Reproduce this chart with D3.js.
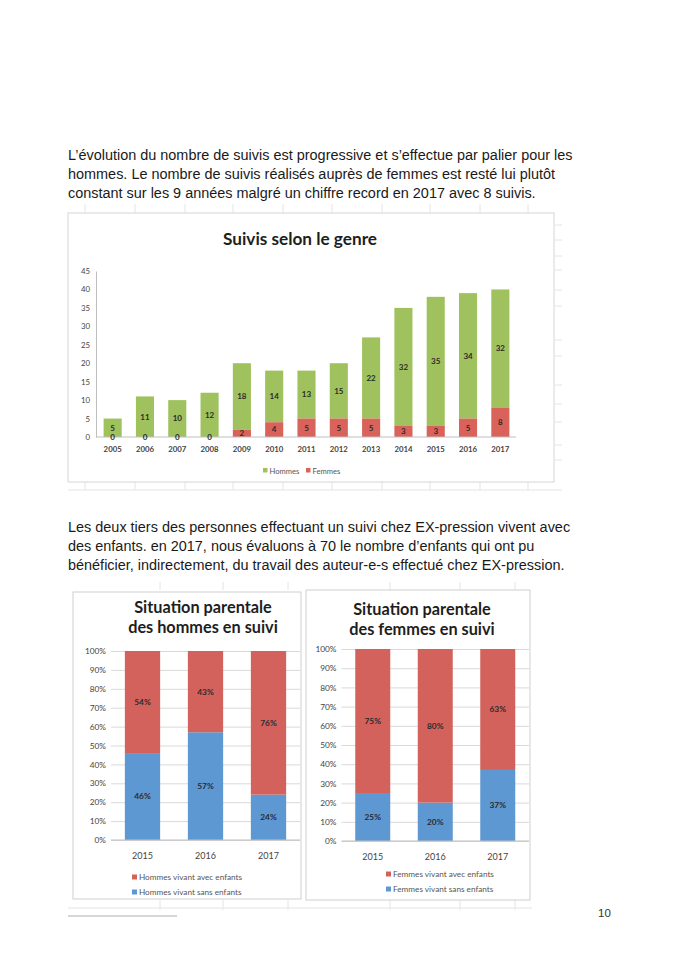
<!DOCTYPE html>
<html lang="fr">
<head>
<meta charset="UTF-8" />
<title>Suivis EX-pression</title>
<script src="https://cdn.jsdelivr.net/npm/d3@7"></script>
<style>
  body { margin: 0; background: #fff; }
  .para { font-family: "Liberation Sans", Arial, sans-serif; font-size: 14.45px; fill: #1a1a1a; }
  .ctitle { font-family: Lato, "Open Sans", sans-serif; font-weight: bold; fill: #1e1e1e; }
  .tick text { font-family: Lato, "Open Sans", sans-serif; fill: #444; }
  .lbl { font-family: Lato, "Open Sans", sans-serif; font-weight: bold; fill: #2b2b2b; }
  .leg { font-family: Lato, "Open Sans", sans-serif; fill: #555; }
</style>
</head>
<body>
<svg id="page" width="684" height="968"></svg>
<script>
  // ---- data ----
  let years = ["2005", "2006", "2007", "2008", "2009", "2010", "2011", "2012", "2013", "2014", "2015", "2016", "2017"];
  let hommes = [5, 11, 10, 12, 18, 14, 13, 15, 22, 32, 35, 34, 32];
  let femmes = [0, 0, 0, 0, 2, 4, 5, 5, 5, 3, 3, 5, 8];
  let yTicks = [0, 5, 10, 15, 20, 25, 30, 35, 40, 45];

  let years3 = ["2015", "2016", "2017"];
  let hommesSans = [46, 57, 24];
  let hommesAvec = [54, 43, 76];
  let femmesSans = [25, 20, 37];
  let femmesAvec = [75, 80, 63];
  let pctTicks = [0, 10, 20, 30, 40, 50, 60, 70, 80, 90, 100];

  let para1 = [
    "L\u2019évolution du nombre de suivis est progressive et s\u2019effectue par palier pour les",
    "hommes. Le nombre de suivis réalisés auprès de femmes est resté lui plutôt",
    "constant sur les 9 années malgré un chiffre record en 2017 avec 8 suivis."
  ];
  let para2 = [
    "Les deux tiers des personnes effectuant un suivi chez EX-pression vivent avec",
    "des enfants. en 2017, nous évaluons à 70 le nombre d\u2019enfants qui ont pu",
    "bénéficier, indirectement, du travail des auteur-e-s effectué chez EX-pression."
  ];

  let green = "#9fc25e", red = "#d9625b", blue = "#5e98d2", red2 = "#d4625c";

  let svg = d3.select("#page");
  svg.append("rect").attr("width", 684).attr("height", 968).attr("fill", "#fff");

  // ---- paragraphs ----
  function paragraph(lines, y0) {
    lines.forEach(function (t, i) {
      svg.append("text").attr("class", "para")
        .attr("x", 68).attr("y", y0 + i * 19).text(t);
    });
  }
  paragraph(para1, 160);
  paragraph(para2, 532);

  // faint spreadsheet cell lines around the pasted charts
  let cells = svg.append("g").attr("stroke", "#e4e4e4").attr("stroke-width", 1);
  [85, 135, 185, 233, 283, 332, 382, 430, 480, 528].forEach(function (x) {
    cells.append("line").attr("x1", x).attr("x2", x).attr("y1", 204).attr("y2", 213);
    cells.append("line").attr("x1", x).attr("x2", x).attr("y1", 482).attr("y2", 490);
  });
  cells.append("line").attr("x1", 68).attr("x2", 562).attr("y1", 490).attr("y2", 490);
  [225, 240, 256, 270, 290, 306, 340, 356, 385, 404, 422, 445, 460].forEach(function (y) {
    cells.append("line").attr("x1", 555).attr("x2", 562).attr("y1", y).attr("y2", y);
  });
  [160, 223, 288, 390, 460, 515].forEach(function (x) {
    cells.append("line").attr("x1", x).attr("x2", x).attr("y1", 582).attr("y2", 590);
    cells.append("line").attr("x1", x).attr("x2", x).attr("y1", 900).attr("y2", 910);
  });
  cells.append("line").attr("x1", 68).attr("x2", 532).attr("y1", 908).attr("y2", 908);

  // ---- chart 1 : Suivis selon le genre ----
  let c1 = svg.append("g");
  c1.append("rect").attr("x", 68).attr("y", 213).attr("width", 486).attr("height", 269)
    .attr("fill", "#fff").attr("stroke", "#d6d6d6");
  c1.append("text").attr("class", "ctitle").attr("x", 300).attr("y", 245)
    .attr("text-anchor", "middle").style("font-size", "17.2px").text("Suivis selon le genre");

  let x1 = d3.scaleBand().domain(years).range([96.5, 516.5]).paddingInner(0.44).paddingOuter(0.22);
  let y1 = d3.scaleLinear().domain([0, 45]).range([437, 271]);

  let ax1 = c1.append("g").attr("transform", "translate(96,0)")
    .call(d3.axisLeft(y1).tickValues(yTicks).tickSize(0).tickPadding(6));
  ax1.select(".domain").attr("stroke", "#bfbfbf");
  ax1.selectAll("text").style("font-size", "7.8px");

  c1.selectAll(".bh").data(years).enter().append("rect")
    .attr("x", function (d) { return x1(d); })
    .attr("width", x1.bandwidth())
    .attr("y", function (d, i) { return y1(hommes[i] + femmes[i]); })
    .attr("height", function (d, i) { return y1(femmes[i]) - y1(hommes[i] + femmes[i]); })
    .attr("fill", green);
  c1.selectAll(".bf").data(years).enter().append("rect")
    .attr("x", function (d) { return x1(d); })
    .attr("width", x1.bandwidth())
    .attr("y", function (d, i) { return y1(femmes[i]); })
    .attr("height", function (d, i) { return y1(0) - y1(femmes[i]); })
    .attr("fill", red);

  let ax1b = c1.append("g").attr("transform", "translate(0,437)")
    .call(d3.axisBottom(x1).tickSize(0).tickPadding(9));
  ax1b.select(".domain").attr("stroke", "#bfbfbf").attr("d", "M96,0H516");
  ax1b.selectAll("text").style("font-size", "7.8px").style("font-weight", "bold");

  years.forEach(function (d, i) {
    let cx = x1(d) + x1.bandwidth() / 2;
    c1.append("text").attr("class", "lbl").attr("x", cx)
      .attr("y", y1(femmes[i] + hommes[i] / 2)).attr("dy", "0.35em")
      .attr("text-anchor", "middle").style("font-size", "8px").text(hommes[i]);
    c1.append("text").attr("class", "lbl").attr("x", cx)
      .attr("y", y1(femmes[i] / 2)).attr("dy", "0.35em")
      .attr("text-anchor", "middle").style("font-size", "8px").text(femmes[i]);
  });

  // legend
  [["Hommes", green, 263], ["Femmes", red, 306]].forEach(function (l) {
    c1.append("rect").attr("x", l[2]).attr("y", 468).attr("width", 4.5).attr("height", 4.5).attr("fill", l[1]);
    c1.append("text").attr("class", "leg").attr("x", l[2] + 6.5).attr("y", 473.5)
      .style("font-size", "7.6px").text(l[0]);
  });

  // ---- charts 2 & 3 : Situation parentale ----
  function parental(opt) {
    let g = svg.append("g");
    g.append("rect").attr("x", opt.frame[0]).attr("y", opt.frame[1])
      .attr("width", opt.frame[2]).attr("height", opt.frame[3])
      .attr("fill", "#fff").attr("stroke", "#cfcfcf");
    opt.title.forEach(function (t, i) {
      g.append("text").attr("class", "ctitle").attr("x", opt.tx).attr("y", opt.ty + i * 20)
        .attr("text-anchor", "middle").style("font-size", "16.3px").text(t);
    });

    let x = d3.scaleBand().domain(years3).range(opt.xr).paddingInner(0.44).paddingOuter(0.22);
    let y = d3.scaleLinear().domain([0, 100]).range([opt.y0, opt.y100]);

    let ax = g.append("g").attr("transform", "translate(" + opt.xr[0] + ",0)")
      .call(d3.axisLeft(y).tickValues(pctTicks).tickFormat(function (d) { return d + "%"; })
        .tickSize(-(opt.xr[1] - opt.xr[0])).tickPadding(5));
    ax.select(".domain").remove();
    ax.selectAll(".tick line").attr("stroke", "#d9d9d9");
    ax.selectAll("text").style("font-size", "8.3px");

    g.selectAll(".s").data(years3).enter().append("rect")
      .attr("x", function (d) { return x(d); }).attr("width", x.bandwidth())
      .attr("y", function (d, i) { return y(opt.sans[i]); })
      .attr("height", function (d, i) { return y(0) - y(opt.sans[i]); })
      .attr("fill", blue);
    g.selectAll(".a").data(years3).enter().append("rect")
      .attr("x", function (d) { return x(d); }).attr("width", x.bandwidth())
      .attr("y", function (d, i) { return y(opt.sans[i] + opt.avec[i]); })
      .attr("height", function (d, i) { return y(opt.sans[i]) - y(opt.sans[i] + opt.avec[i]); })
      .attr("fill", red2);

    g.append("line").attr("x1", opt.xr[0]).attr("x2", opt.xr[1])
      .attr("y1", opt.y0).attr("y2", opt.y0).attr("stroke", "#bfbfbf");

    let axb = g.append("g").attr("transform", "translate(0," + opt.y0 + ")")
      .call(d3.axisBottom(x).tickSize(0).tickPadding(13));
    axb.select(".domain").remove();
    axb.selectAll("text").style("font-size", "9px");

    years3.forEach(function (d, i) {
      let cx = x(d) + x.bandwidth() / 2;
      g.append("text").attr("class", "lbl").attr("x", cx)
        .attr("y", y(opt.sans[i] / 2)).attr("dy", "0.35em").attr("text-anchor", "middle")
        .style("font-size", "8.3px").text(opt.sans[i] + "%");
      g.append("text").attr("class", "lbl").attr("x", cx)
        .attr("y", y(opt.sans[i] + opt.avec[i] / 2)).attr("dy", "0.35em").attr("text-anchor", "middle")
        .style("font-size", "8.3px").text(opt.avec[i] + "%");
    });

    [[opt.legend[0], red2], [opt.legend[1], blue]].forEach(function (l, i) {
      g.append("rect").attr("x", opt.lx).attr("y", opt.ly + i * 15 - 4.5)
        .attr("width", 5).attr("height", 5).attr("fill", l[1]);
      g.append("text").attr("class", "leg").attr("x", opt.lx + 7).attr("y", opt.ly + i * 15 + 1)
        .style("font-size", "8.2px").text(l[0]);
    });
  }

  parental({
    frame: [73, 592, 228, 307],
    title: ["Situation parentale", "des hommes en suivi"],
    tx: 203, ty: 613,
    xr: [111, 300], y0: 840, y100: 651,
    sans: hommesSans, avec: hommesAvec,
    legend: ["Hommes vivant avec enfants", "Hommes vivant sans enfants"],
    lx: 132, ly: 879
  });
  parental({
    frame: [306, 590, 224, 310],
    title: ["Situation parentale", "des femmes en suivi"],
    tx: 422, ty: 615,
    xr: [341.5, 529], y0: 841, y100: 649,
    sans: femmesSans, avec: femmesAvec,
    legend: ["Femmes vivant avec enfants", "Femmes vivant sans enfants"],
    lx: 386, ly: 876
  });

  // ---- footer ----
  svg.append("line").attr("x1", 68).attr("x2", 177).attr("y1", 916).attr("y2", 916)
    .attr("stroke", "#9a9a9a").attr("stroke-width", 0.8);
  svg.append("text").attr("x", 598).attr("y", 917)
    .style("font-family", "Liberation Sans, Arial, sans-serif").style("font-size", "11.5px")
    .attr("fill", "#333").text("10");
</script>
</body>
</html>
